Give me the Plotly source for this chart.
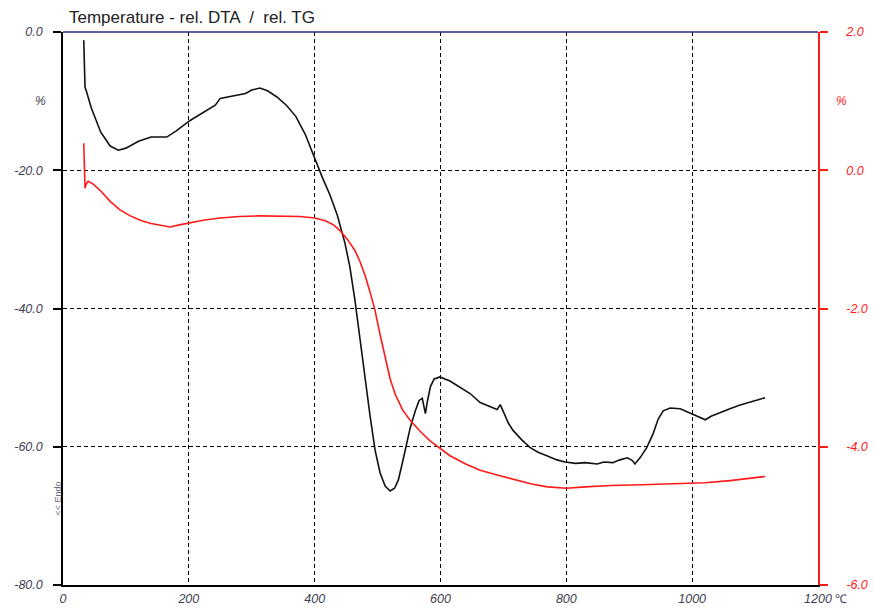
import plotly.graph_objects as go

# DTA signal (left axis)
dta_temp = [33, 34, 35, 37, 45, 60, 75, 88, 100, 120, 140, 165, 180, 202, 225, 242, 250, 270,
            290, 300, 313, 325, 340, 355, 370, 385, 400, 412, 424, 436, 448, 456, 464, 472,
            480, 488, 496, 504, 512, 520, 527, 533, 539, 545, 552, 560, 566, 571, 574, 576,
            579, 584, 590, 599, 615, 630, 647, 663, 679, 690, 695, 700, 708, 715, 728, 742,
            755, 769, 785, 798, 815, 830, 849, 860, 874, 885, 897, 905, 909, 918, 928, 938,
            946, 954, 965, 981, 997, 1010, 1021, 1030, 1045, 1060, 1075, 1092, 1105, 1116]
dta_val = [-1.2, -4.0, -8.0, -8.5, -11.0, -14.5, -16.5, -17.1, -16.8, -15.8, -15.2, -15.2, -14.3,
           -12.8, -11.6, -10.6, -9.6, -9.3, -8.9, -8.4, -8.1, -8.5, -9.4, -10.6, -12.2, -14.8,
           -18.4, -21.0, -23.5, -26.5, -30.5, -34.0, -38.8, -44.5, -50.4, -55.5, -60.5, -63.8,
           -65.7, -66.4, -66.0, -64.8, -62.5, -60.0, -57.2, -54.8, -53.3, -53.0, -54.2, -55.2,
           -53.5, -51.3, -50.2, -49.9, -50.5, -51.4, -52.3, -53.6, -54.2, -54.6, -53.9, -55.0,
           -56.6, -57.6, -58.9, -60.1, -60.8, -61.3, -61.9, -62.2, -62.4, -62.3, -62.5, -62.2,
           -62.3, -61.9, -61.6, -62.0, -62.5, -61.5, -60.1, -58.1, -56.0, -54.8, -54.4, -54.5,
           -55.1, -55.6, -56.1, -55.6, -55.0, -54.5, -54.0, -53.6, -53.2, -52.9]

# TG signal (right axis)
tg_temp = [33, 34, 35, 37, 40, 48, 60, 75, 90, 107, 125, 140, 155, 170, 185, 202, 225, 250, 280,
           313, 345, 377, 400, 417, 430, 440, 452, 464, 472, 480, 488, 496, 504, 512, 520, 528,
           540, 552, 568, 583, 600, 615, 640, 663, 690, 715, 745, 770, 800, 830, 870, 920, 970,
           1020, 1060, 1090, 1116]
tg_val = [0.39, 0.1, -0.26, -0.2, -0.16, -0.2, -0.3, -0.45, -0.57, -0.66, -0.73, -0.77, -0.8,
          -0.82, -0.79, -0.76, -0.72, -0.69, -0.67, -0.66, -0.66, -0.67, -0.69, -0.73, -0.79,
          -0.87, -1.0, -1.16, -1.32, -1.52, -1.76, -2.03, -2.38, -2.72, -3.02, -3.24, -3.47,
          -3.62, -3.78, -3.91, -4.03, -4.13, -4.25, -4.34, -4.41, -4.47, -4.54, -4.58, -4.6,
          -4.58, -4.56, -4.55, -4.54, -4.52, -4.49, -4.46, -4.43]

x_ticks = [0, 200, 400, 600, 800, 1000, 1200]
left_ticks = [0, -20, -40, -60, -80]
right_ticks = [2, 0, -2, -4, -6]

label_grey = "#3e3e52"
red = "#ff1a1a"
font_family = "Liberation Sans, Arial, sans-serif"
tick_font = dict(family=font_family, size=12.5, color=label_grey)

fig = go.Figure()
fig.add_trace(go.Scatter(x=dta_temp, y=dta_val, mode="lines",
                         line=dict(color="#111111", width=1.6), yaxis="y"))
fig.add_trace(go.Scatter(x=tg_temp, y=tg_val, mode="lines",
                         line=dict(color=red, width=1.6), yaxis="y2"))

fig.update_layout(
    width=874, height=608,
    margin=dict(l=63, r=56, t=32, b=23),
    paper_bgcolor="white", plot_bgcolor="white",
    showlegend=False,
    xaxis=dict(range=[0, 1200], tickvals=x_ticks, automargin=False,
               ticktext=[f"<i>{t}</i>" for t in x_ticks],
               showgrid=True, gridcolor="#000000", gridwidth=1, griddash="4px,3px",
               zeroline=False, showline=True, linecolor="#000000", linewidth=1.5,
               ticks="", ticklabelstandoff=1, tickfont=tick_font),
    yaxis=dict(range=[-80, 0], tickvals=left_ticks, automargin=False,
               ticktext=[f"<i>{t:.1f}</i>" for t in left_ticks],
               showgrid=True, gridcolor="#000000", gridwidth=1, griddash="4px,3px",
               zeroline=False, showline=True, linecolor="#000000", linewidth=1.5,
               ticks="outside", ticklen=8, tickcolor="#000000", tickwidth=1.5,
               ticklabelstandoff=8, tickfont=tick_font),
    yaxis2=dict(range=[-6, 2], tickvals=right_ticks, automargin=False,
                ticktext=[f"<i>{t:.1f}</i>" for t in right_ticks],
                overlaying="y", side="right", showgrid=False, zeroline=False,
                showline=True, linecolor=red, linewidth=1.5,
                ticks="outside", ticklen=8, tickcolor=red, tickwidth=1.5,
                ticklabelstandoff=16,
                tickfont=dict(family=font_family, size=12.5, color=red)),
)

# top frame line
fig.add_shape(type="line", xref="paper", yref="paper", x0=0, x1=1, y0=1, y1=1,
              line=dict(color="#2a2a7a", width=1.5))

fig.add_annotation(text="Temperature - rel. DTA  /  rel. TG", xref="paper", yref="paper",
                   x=0.005, y=1, yshift=3, xanchor="left", yanchor="bottom", showarrow=False,
                   font=dict(family=font_family, size=17, color="#222222"))
fig.add_annotation(text="<i>%</i>", xref="paper", yref="y", x=0, y=-10, xshift=-23,
                   xanchor="center", yanchor="middle", showarrow=False,
                   font=dict(family=font_family, size=12, color=label_grey))
fig.add_annotation(text="<i>%</i>", xref="paper", yref="y2", x=1, y=1.0, xshift=23,
                   xanchor="center", yanchor="middle", showarrow=False,
                   font=dict(family=font_family, size=12, color=red))
fig.add_annotation(text="℃", xref="paper", yref="paper", x=1, y=0, xshift=15, yshift=-14,
                   xanchor="left", yanchor="middle", showarrow=False,
                   font=dict(family=font_family, size=12, color=label_grey))
fig.add_annotation(text="<< Endo", xref="paper", yref="y", x=0, y=-67.5, xshift=-5,
                   xanchor="center", yanchor="middle", textangle=-90, showarrow=False,
                   font=dict(family=font_family, size=9, color="#6a6a8a"))

fig.write_html("out.html")
